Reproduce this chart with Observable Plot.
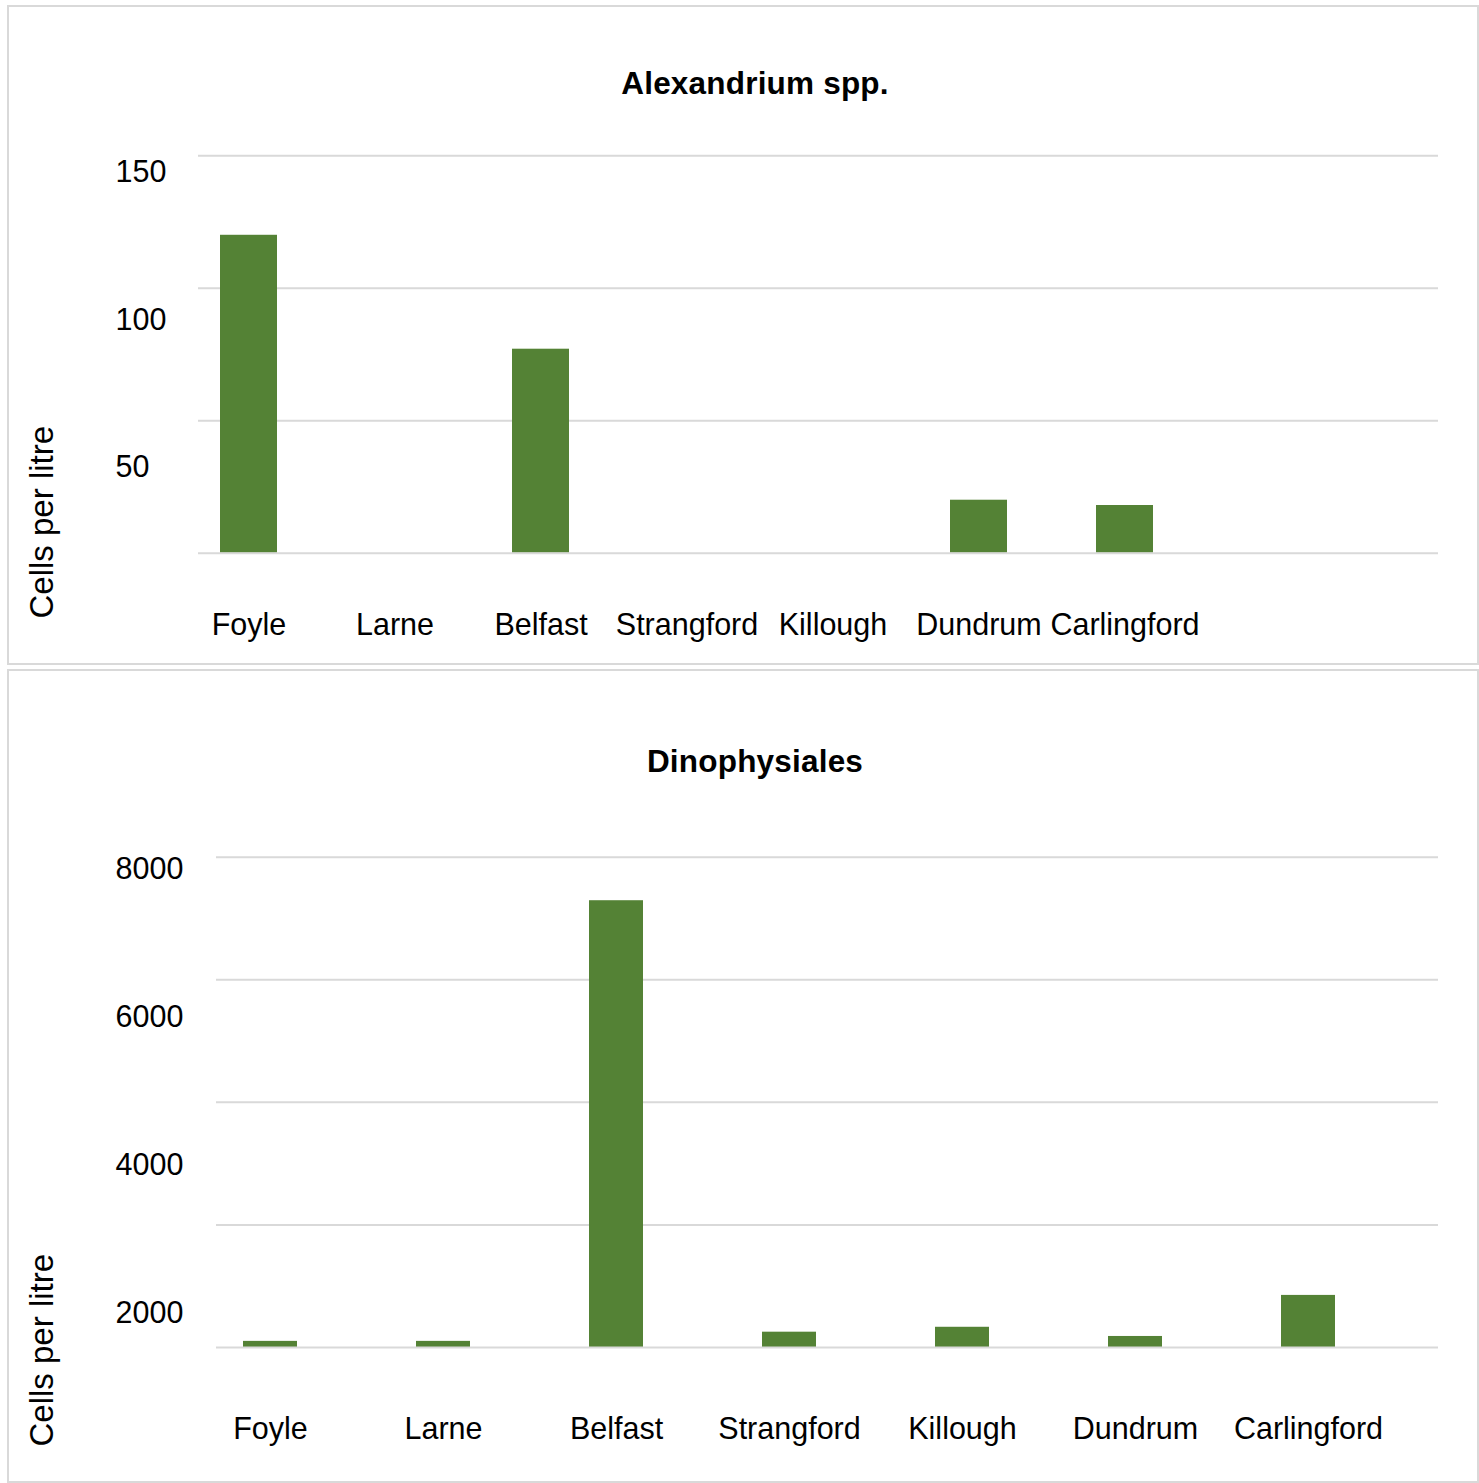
<!DOCTYPE html>
<html>
<head>
<meta charset="utf-8">
<script src="https://cdn.jsdelivr.net/npm/d3@7"></script>
<script src="https://cdn.jsdelivr.net/npm/@observablehq/plot@0.6"></script>
<style>
  html, body { margin: 0; padding: 0; background: #fff; overflow: hidden; }
  body { position: relative; width: 1479px; height: 1483px; font-family: "Liberation Sans", Arial, sans-serif; }
  .panel { position: absolute; left: 7px; width: 1472px; box-sizing: border-box; border: 2px solid #d9d9d9; }
  .title { position: absolute; left: 0; width: 1510px; text-align: center; font-weight: bold;
           font-size: 31.5px; line-height: 31.5px; letter-spacing: 0.2px; color: #000; }
  .chart { position: absolute; left: 0; }
</style>
</head>
<body>
<div class="panel" style="top:5px;height:660px"></div>
<div class="panel" style="top:669px;height:814px"></div>
<div class="title" style="top:67.5px">Alexandrium spp.</div>
<div class="title" style="top:745.5px">Dinophysiales</div>
<div class="chart" id="alexandrium" style="top:5px"></div>
<div class="chart" id="dinophysiales" style="top:669px"></div>
<script>
// Sampling sites and cell counts (cells per litre)
const sites = ["Foyle", "Larne", "Belfast", "Strangford", "Killough", "Dundrum", "Carlingford"];
const alexandriumCells = [120, 0, 77, 0, 0, 20, 18];
const dinophysialesCells = [100, 100, 7290, 250, 330, 180, 850];
const alexandriumTicks = [50, 100, 150];
const dinophysialesTicks = [2000, 4000, 6000, 8000];
const yTitle = "Cells per litre";

const GREEN = "#548235";
const GRID = "#d9d9d9";
const FONT = "'Liberation Sans', Arial, sans-serif";

function cellChart(cfg) {
  const data = sites.map((site, i) => ({site, cells: cfg.values[i]}));
  const step = cfg.ticks[1] - cfg.ticks[0];
  const yMax = cfg.ticks[cfg.ticks.length - 1];
  return Plot.plot({
    width: 1479,
    height: cfg.height,
    marginTop: cfg.marginTop,
    marginBottom: cfg.marginBottom,
    marginLeft: cfg.marginLeft,
    marginRight: 41,
    style: {background: "transparent", fontFamily: FONT, color: "#000", overflow: "visible"},
    x: {type: "band", domain: sites, range: cfg.xRange,
        paddingInner: cfg.padding, paddingOuter: cfg.padding / 2, align: 0.5},
    y: {domain: [0, yMax]},
    marks: [
      Plot.ruleY(cfg.ticks, {stroke: GRID, strokeWidth: 2}),
      Plot.barY(data, {x: "site", y: "cells", fill: GREEN}),
      Plot.ruleY([0], {stroke: GRID, strokeWidth: 2}),
      // value labels sit a little lower than their gridlines, drifting further down the axis
      ...cfg.ticks.map(v => Plot.axisY([v], {
        tickSize: 0, tickPadding: 0, textAnchor: "start", label: null,
        tickFormat: d => String(d),
        dx: 115 - cfg.marginLeft,
        dy: cfg.labelShift + (yMax - v) / step * cfg.labelDrift,
        fontSize: 30.5, letterSpacing: 0.5
      })),
      Plot.axisX({tickSize: 0, tickPadding: cfg.xLabelPad, label: null, fontSize: 30.5, letterSpacing: 0.3}),
      Plot.text([yTitle], {
        text: d => d, frameAnchor: "bottom-left", rotate: -90,
        textAnchor: "start", lineAnchor: "middle",
        dx: 41.6 - cfg.marginLeft, dy: cfg.yTitleDy, fontSize: 33
      })
    ]
  });
}

document.getElementById("alexandrium").append(cellChart({
  values: alexandriumCells, ticks: alexandriumTicks,
  height: 660, marginTop: 150.3, marginBottom: 112.3, marginLeft: 198,
  xRange: [174.8, 1198.5], padding: 0.61,
  labelShift: 16.4, labelDrift: 15.2, xLabelPad: 60.2, yTitleDy: 65.3
}));

document.getElementById("dinophysiales").append(cellChart({
  values: dinophysialesCells, ticks: dinophysialesTicks,
  height: 814, marginTop: 187.7, marginBottom: 136, marginLeft: 216,
  xRange: [180.8, 1397], padding: 0.69,
  labelShift: 12.3, labelDrift: 25.4, xLabelPad: 69.6, yTitleDy: 99
}));
</script>
</body>
</html>
